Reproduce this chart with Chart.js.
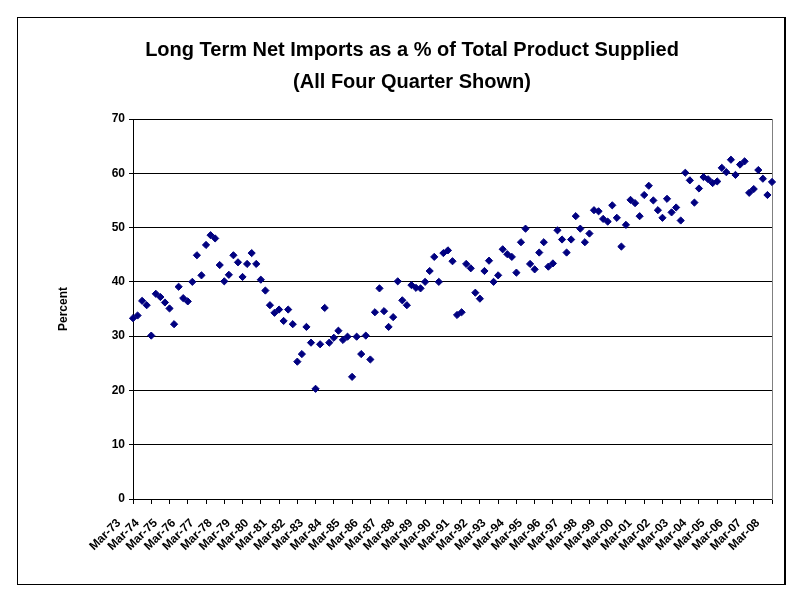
<!DOCTYPE html>
<html>
<head>
<meta charset="utf-8">
<title>Long Term Net Imports</title>
<script src="https://cdn.jsdelivr.net/npm/chart.js@4.4.1/dist/chart.umd.min.js"></script>
<style>
    html, body { margin: 0; padding: 0; background: #fff; }
    #wrap { position: relative; width: 803px; height: 600px; }
    #frame { position: absolute; left: 17px; top: 17px; width: 766px; height: 566px; border: 1px solid #000; border-right-width: 2px; }
    #chart { position: absolute; left: 0; top: 0; }
</style>
</head>
<body>
<div id="wrap">
    <div id="frame"></div>
    <canvas id="chart" width="803" height="600"></canvas>
</div>
<script>
// 분기 라벨 (Mar-73 ~ Mar-08)
const quarterMonths = ['Mar', 'Jun', 'Sep', 'Dec'];
const firstYear = 1973;
const quarterCount = 141;

// 순수입 비율 (%), 분기별
const netImportsPct = [
    33.3, 33.8, 36.5, 35.7, 30.1, 37.8, 37.2, 36.2, 35.1, 32.2,
    39.1, 37.0, 36.4, 40.0, 44.9, 41.2, 46.8, 48.6, 48.0, 43.1,
    40.1, 41.3, 44.9, 43.6, 40.9, 43.3, 45.3, 43.3, 40.4, 38.4,
    35.7, 34.3, 34.9, 32.8, 34.9, 32.2, 25.3, 26.7, 31.7, 28.8,
    20.3, 28.5, 35.2, 28.8, 29.7, 31.0, 29.3, 29.9, 22.5, 29.9,
    26.7, 30.1, 25.7, 34.4, 38.8, 34.6, 31.7, 33.5, 40.1, 36.6,
    35.7, 39.4, 38.9, 38.8, 40.0, 42.0, 44.6, 40.0, 45.3, 45.8,
    43.8, 33.9, 34.4, 43.3, 42.5, 38.0, 36.9, 42.0, 43.9, 40.0,
    41.2, 46.0, 45.1, 44.6, 41.7, 47.3, 49.8, 43.3, 42.3, 45.4,
    47.3, 42.8, 43.4, 49.5, 47.8, 45.4, 47.8, 52.1, 49.8, 47.3,
    48.9, 53.2, 53.0, 51.6, 51.1, 54.1, 51.8, 46.5, 50.5, 55.1,
    54.5, 52.1, 56.0, 57.7, 55.0, 53.2, 51.8, 55.3, 52.8, 53.7,
    51.3, 60.1, 58.7, 54.6, 57.2, 59.3, 58.9, 58.2, 58.5, 61.0,
    60.2, 62.5, 59.7, 61.6, 62.2, 56.4, 57.1, 60.6, 59.0, 56.0,
    58.4
];

// y축 범위
const yMin = 0;
const yMax = 70;
const yStep = 10;

const titleLines = [
    'Long Term Net Imports as a % of Total Product Supplied',
    '(All Four Quarter Shown)'
];

// 카테고리 라벨 생성
const quarterLabels = [];
for (let i = 0; i < quarterCount; i++) {
    const year = firstYear + Math.floor(i / 4);
    quarterLabels.push(quarterMonths[i % 4] + '-' + String(year % 100).padStart(2, '0'));
}

const fontFamily = '"Liberation Sans", Arial, sans-serif';

const ctx = document.getElementById('chart').getContext('2d');
new Chart(ctx, {
    type: 'line',
    data: {
        labels: quarterLabels,
        datasets: [{
            label: 'Net Imports',
            data: netImportsPct,
            showLine: false,
            pointStyle: 'rectRot',
            pointRadius: 3.6,
            pointBorderWidth: 1,
            pointBackgroundColor: '#000080',
            pointBorderColor: '#000080'
        }]
    },
    options: {
        responsive: false,
        animation: false,
        layout: {
            padding: { left: 52, right: 31, top: 24, bottom: 28 }
        },
        plugins: {
            legend: { display: false },
            tooltip: { enabled: false },
            title: {
                display: true,
                text: titleLines,
                color: '#000',
                font: { family: fontFamily, size: 20, weight: 'bold', lineHeight: 1.6 },
                padding: { top: 10, bottom: 21 }
            }
        },
        scales: {
            x: {
                offset: false,
                grid: {
                    drawOnChartArea: false,
                    tickLength: 5,
                    color: c => (c.index % 4 === 0 ? '#000' : 'rgba(0,0,0,0)')
                },
                border: { color: '#000' },
                ticks: {
                    autoSkip: false,
                    minRotation: 45,
                    maxRotation: 45,
                    padding: 12,
                    labelOffset: -14,
                    color: '#000',
                    font: { family: fontFamily, size: 12, weight: 'bold' },
                    callback: (v, i) => (i % 4 === 0 ? quarterLabels[i] : '')
                },
                afterFit: scale => { scale.height = 73; }
            },
            y: {
                min: yMin,
                max: yMax,
                grid: { color: '#000', tickLength: 4 },
                border: { color: '#000' },
                ticks: {
                    stepSize: yStep,
                    padding: 4,
                    color: '#000',
                    font: { family: fontFamily, size: 12, weight: 'bold' }
                },
                title: {
                    display: true,
                    text: 'Percent',
                    color: '#000',
                    padding: 4,
                    font: { family: fontFamily, size: 12, weight: 'bold' }
                },
                afterFit: scale => { scale.width = 81; }
            },
            yRight: {
                position: 'right',
                min: yMin,
                max: yMax,
                ticks: { display: false },
                grid: { display: false, drawTicks: false },
                border: { display: true, color: '#808080' }
            }
        }
    }
});
</script>
</body>
</html>
